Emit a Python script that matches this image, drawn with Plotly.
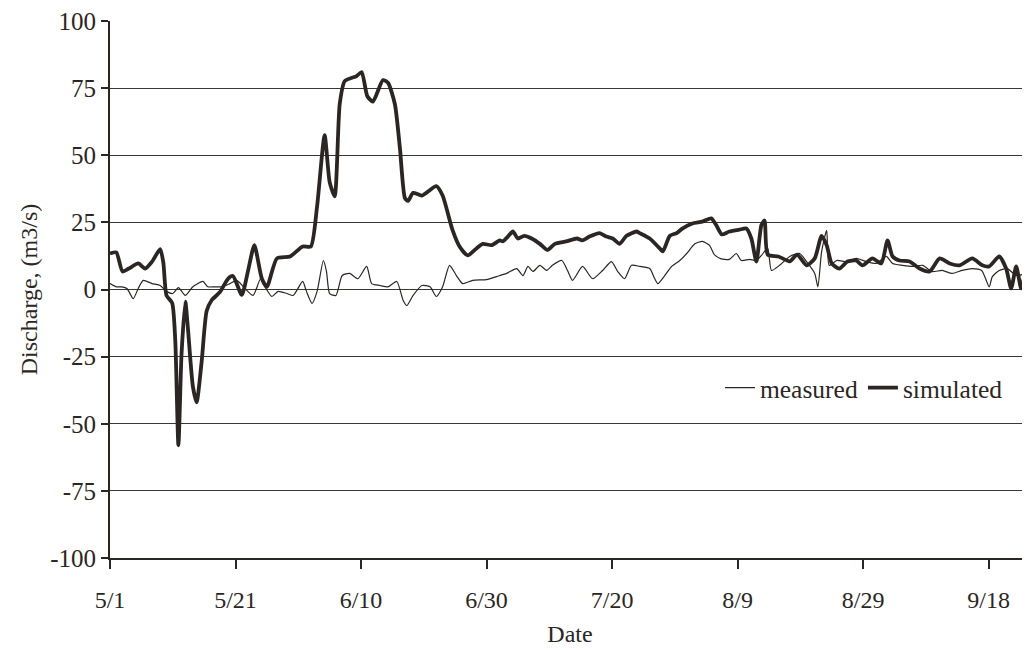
import pandas as pd
import plotly.graph_objects as go

start_date = "2001-05-01"

# simulated discharge (day offset from 5/1, m3/s)
sim_days = [0, 1, 2, 3, 4.5, 5.6, 6.7, 8, 8.5, 9, 9.9, 10.4, 10.9, 11.4, 12, 12.4, 13.2, 13.8,
            14.6, 15.4, 16.2, 17.5, 18.8, 19.6, 21, 22, 23, 24.2, 25, 26.6, 28.7, 30.7, 32, 33,
            34.2, 35, 35.8, 36.6, 37.4, 39.3, 40.1, 41, 41.9, 43.5, 44.3, 45.4, 46.2, 47, 47.5,
            48.3, 49.7, 52, 53, 54.6, 55.7, 57, 58.4, 59.4, 60.8, 62.1, 62.6, 63.4, 64.2, 65,
            66, 67.2, 68.5, 69.7, 70.9, 72.7, 74.4, 75.3, 76.4, 78, 79.1, 80.1, 81.2, 82.3, 83.9,
            84.4, 86, 87.6, 88.1, 89.2, 90.3, 91.2, 92.8, 94.4, 95.8, 96.6, 97.5, 98.7, 100.3,
            101.4, 102.2, 103, 103.8, 104.3, 104.8, 106.5, 108.3, 109.5, 111, 112.3, 113.4,
            114.2, 115, 116.2, 117.5, 118.9, 119.9, 121.5, 122.9, 123.9, 124.7, 125.8, 127.4,
            129, 130.6, 132.2, 133.8, 135.4, 137.4, 139, 140.1, 141.7, 142.8, 143.6, 144.4,
            145.2, 146]
sim_vals = [13.4, 13.8, 6.7, 7.8, 9.7, 7.8, 10.4, 15, 10, -2.2, -5, -19, -58, -24, -4.5, -14,
            -36, -42, -27, -8, -4, -1, 4, 5, -2, 7, 16.5, 4, 1, 11.6, 12.3, 16, 16, 31, 57.5, 40,
            34.7, 69, 77.6, 79.5, 81, 72, 70, 78, 77, 69, 52.6, 34, 33, 36, 35, 38.5, 35, 22, 16,
            12.7, 15.3, 17, 16.5, 18.3, 17.9, 19.7, 21.6, 19, 20, 19, 17, 14.7, 17, 17.9, 19,
            18.3, 19.7, 21, 19.7, 19, 17, 20, 21.6, 21, 19, 15.3, 14.2, 20, 21, 22.7, 24.6, 25.3,
            26.5, 24, 20.5, 21.6, 22.3, 22.7, 19, 10.4, 24, 25.7, 13, 12.3, 10.5, 13, 9, 11.6,
            20, 16.5, 9.7, 7.8, 10.4, 10.8, 9, 11.6, 9.7, 18.3, 12.3, 10.8, 10.4, 7.8, 6.7, 11.6,
            9.7, 9, 11.6, 9, 8.6, 12.3, 7.8, 0.4, 8.6, 0.4, 9]

# measured discharge (day offset from 5/1, m3/s)
meas_days = [0, 1, 1.9, 2.7, 3.7, 4.5, 5.3, 6.7, 8, 9, 10, 10.9, 12, 13.2, 14.8, 15.6, 16.7,
             17.8, 19.1, 20.2, 21.5, 22.8, 24, 24.7, 25.8, 26.8, 28.2, 29.2, 30.7, 31.3, 32.2,
             33, 34, 34.5, 35, 36, 37, 38.2, 39.5, 40.9, 41.7, 43, 44.3, 45.7, 46.7, 47.3, 48.3,
             49.7, 51, 52, 53, 54.1, 55.2, 56.2, 57.8, 60, 61.6, 63.2, 64.8, 65.8, 66.6, 67.4,
             68.5, 69.6, 70.5, 72, 72.9, 73.7, 75.3, 76.9, 78.5, 79.9, 80.9, 82, 83.1, 84.4, 86,
             86.8, 87.3, 88.4, 89.5, 90.8, 91.9, 93.2, 94.4, 95.5, 96.3, 97.3, 98.7, 99.8, 100.6,
             101.9, 103, 103.8, 104.8, 105.4, 106.7, 108.3, 109.9, 111, 112.3, 112.8, 113.4,
             114.2, 114.6, 115.8, 117.4, 118.9, 120.5, 122.1, 123.7, 124.7, 126.3, 127.9, 129.5,
             131, 132.6, 134.2, 135.8, 137.4, 138.9, 140.1, 140.6, 141.7, 143, 144.4, 146]
meas_vals = [2.2, 1, 1, 0.4, -3.4, 0.4, 3.4, 2.2, 1.5, -0.7, -1.5, 0.7, -2.2, 1, 3, 1, 1, 1,
             2.2, 3.4, 0.4, -2.2, 4, 1, -2.6, -0.7, -1.5, -2.2, 3, -0.7, -5.2, -0.7, 10.8, 6.7,
             -1.5, -2.2, 5.2, 6, 4, 8.6, 2.2, 1.5, 1, 3, -4, -6, -2.2, 1.5, 1, -2.6, 1, 9, 5.2,
             2.2, 3.4, 3.7, 4.8, 6, 7.8, 5.2, 8.6, 6.7, 9, 7.1, 9, 10.8, 7.1, 3.4, 8.6, 4, 7.1,
             10.4, 6.7, 4, 9, 8.6, 7.8, 4, 2.2, 5.2, 8.6, 10.8, 13.4, 17, 17.9, 16.5, 13, 11.5,
             11.2, 13.4, 10.8, 11.2, 10.8, 12.7, 15.3, 7.1, 9, 12.3, 13.4, 10.4, 6, 1, 14.2, 22,
             9, 10.8, 10.4, 11.6, 10.4, 9.7, 12.3, 9.7, 9, 8.6, 9, 6.7, 7.1, 6, 7.1, 7.8, 7.1, 1,
             4.8, 7.1, 7.8, 5.2, 6]

tick_days = [0, 20, 40, 60, 80, 100, 120, 140]
tick_labels = ["5/1", "5/21", "6/10", "6/30", "7/20", "8/9", "8/29", "9/18"]
y_ticks = [-100, -75, -50, -25, 0, 25, 50, 75, 100]
y_labels = ["-100", "-75", "-50", "-25", "0", "25", "50", "75", "100"]

t0 = pd.Timestamp(start_date)
to_dt = lambda d: t0 + pd.to_timedelta(d, unit="D")
sim_x = [to_dt(d) for d in sim_days]
meas_x = [to_dt(d) for d in meas_days]
tick_x = [to_dt(d) for d in tick_days]

ink = "#2b2624"
font_fam = "Liberation Serif, Times New Roman, serif"
fs = 24

fig = go.Figure()
fig.add_trace(go.Scatter(x=meas_x, y=meas_vals, mode="lines", name="measured",
                         line=dict(color=ink, width=1.2, shape="spline", smoothing=0.6)))
fig.add_trace(go.Scatter(x=sim_x, y=sim_vals, mode="lines", name="simulated",
                         line=dict(color=ink, width=3.8, shape="spline", smoothing=0.6)))

fig.update_layout(
    width=1022, height=643,
    margin=dict(l=102, r=0, t=13, b=93),
    paper_bgcolor="white", plot_bgcolor="white",
    font=dict(family=font_fam, size=fs, color=ink),
    showlegend=True,
    legend=dict(orientation="h", x=0.663, y=0.3166, xanchor="left", yanchor="middle",
                bgcolor="rgba(0,0,0,0)", font=dict(size=25.5, family=font_fam),
                itemwidth=30, tracegroupgap=0),
)
fig.update_xaxes(
    range=[to_dt(0), to_dt(146.6)],
    tickmode="array", tickvals=tick_x, ticktext=tick_labels,
    ticks="outside", ticklen=9, tickwidth=1.5, tickcolor=ink,
    ticklabelstandoff=10,
    showline=True, linecolor=ink, linewidth=2,
    showgrid=False, zeroline=False,
    title=dict(text="Date", standoff=13, font=dict(size=fs)),
    tickfont=dict(size=fs),
)
fig.update_yaxes(
    range=[-100, 100],
    tickmode="array", tickvals=y_ticks, ticktext=y_labels,
    ticks="outside", ticklen=7, tickwidth=1.5, tickcolor=ink,
    ticklabeloverflow="allow",
    showline=True, linecolor=ink, linewidth=2,
    showgrid=True, gridcolor="#3a3633", gridwidth=1.2,
    zeroline=False,
    title=dict(text="Discharge, (m3/s)", standoff=6, font=dict(size=fs)),
    tickfont=dict(size=25),
)

fig.write_html("out.html")
